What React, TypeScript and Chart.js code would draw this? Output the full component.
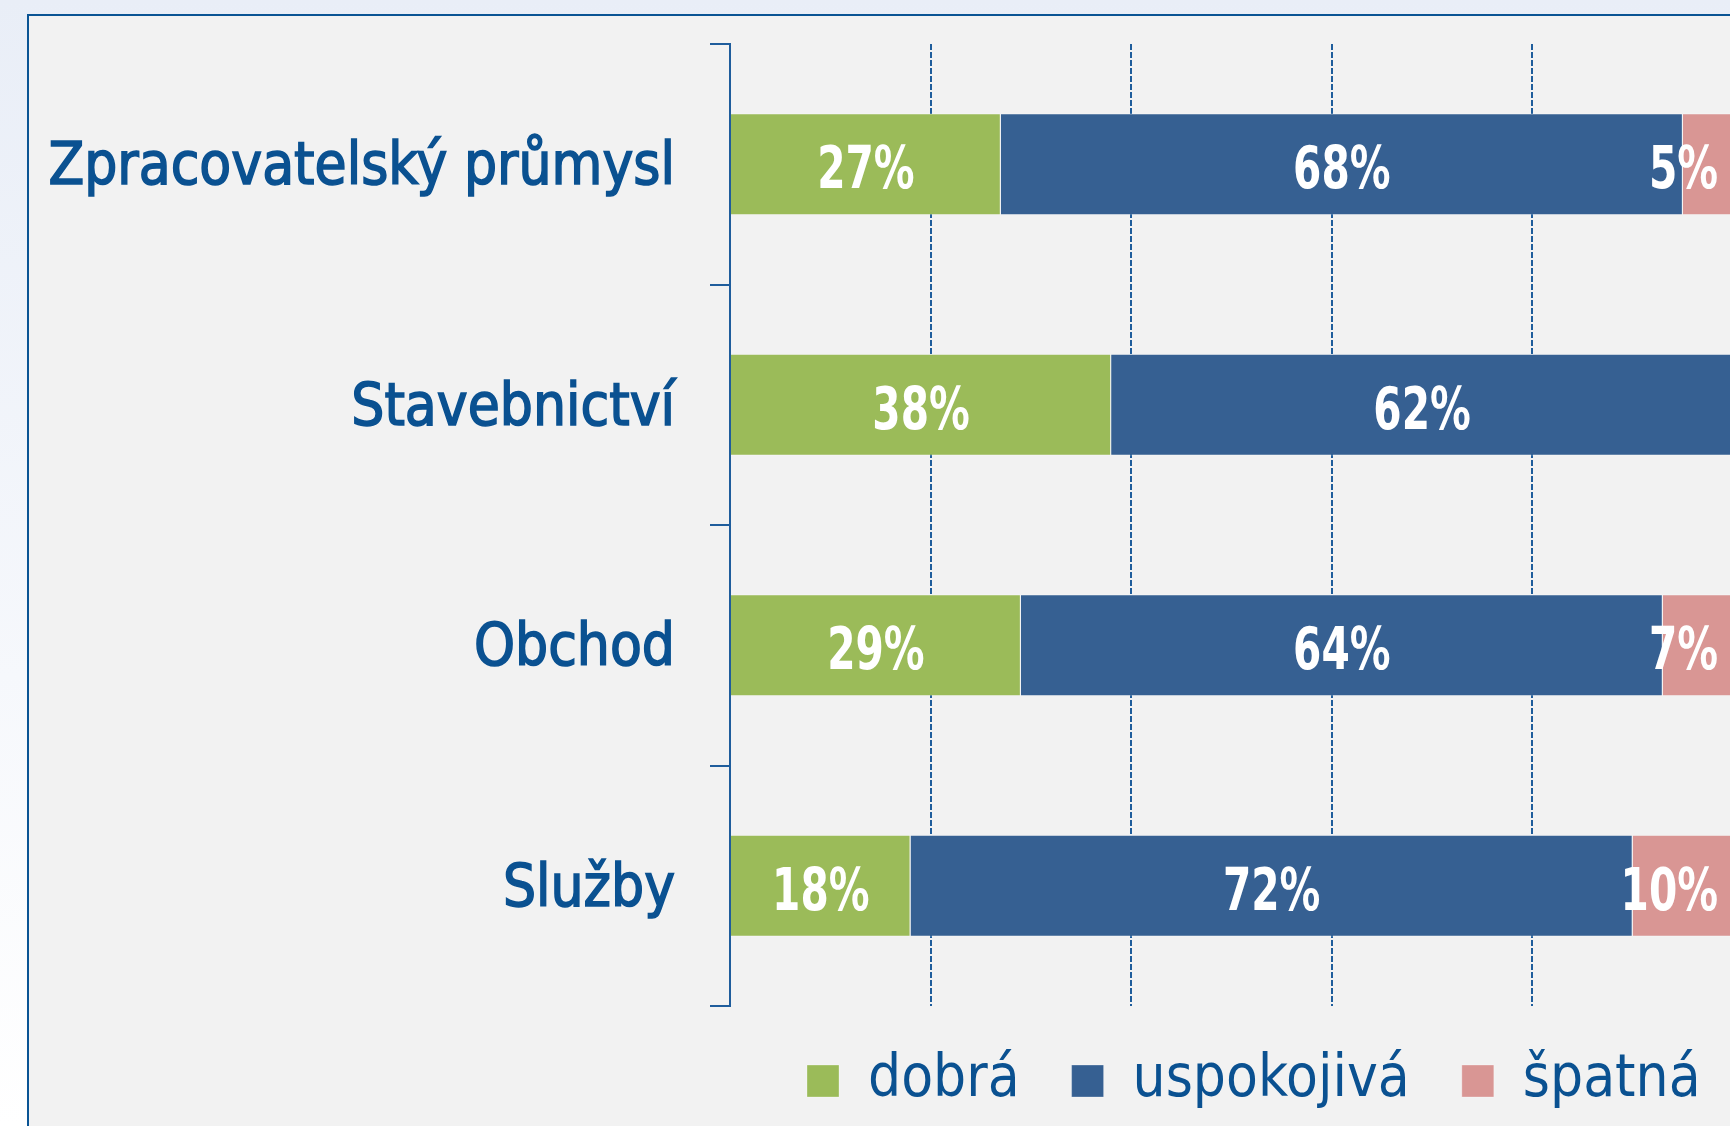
import React, { useEffect, useRef } from "react";
import { Chart, registerables } from "chart.js";

Chart.register(...registerables);

const categories = ["Zpracovatelský průmysl", "Stavebnictví", "Obchod", "Služby"];
const seriesNames = ["dobrá", "uspokojivá", "špatná"];
const dobra = [27, 38, 29, 18];
const uspokojiva = [68, 62, 64, 72];
const spatna = [5, 0, 7, 10];
const xTicks = [0, 20, 40, 60, 80, 100];

const GREEN = "#9bbb59";
const BLUE = "#366092";
const PINK = "#d99694";
const TEXT = "#0a5191";
const AXIS = "#1f5d9c";
const FONT = "'DejaVu Sans Condensed', 'DejaVu Sans', sans-serif";

const CANVAS_W = 1760;
const CANVAS_H = 1126;

const barLabels = {
  id: "barLabels",
  afterDatasetsDraw(chart: any) {
    const ctx = chart.ctx;
    ctx.save();
    ctx.font = `bold 58px ${FONT}`;
    ctx.fillStyle = "#ffffff";
    ctx.textAlign = "center";
    ctx.textBaseline = "alphabetic";
    const sx = 0.78;
    const maxRight = chart.chartArea.right - 15;
    chart.data.datasets.forEach((ds: any, di: number) => {
      const meta = chart.getDatasetMeta(di);
      meta.data.forEach((bar: any, i: number) => {
        const v = ds.data[i];
        if (!v) return;
        const text = `${v}%`;
        const { x, y, base } = bar.getProps(["x", "y", "base"], true);
        const w = ctx.measureText(text).width * sx;
        let cx = (x + base) / 2;
        if (cx + w / 2 > maxRight) cx = maxRight - w / 2;
        ctx.save();
        ctx.translate(cx, y + 24);
        ctx.scale(sx, 1);
        ctx.fillText(text, 0, 0);
        ctx.restore();
      });
    });
    ctx.restore();
  },
};

const legendPlace = {
  id: "legendPlace",
  afterLayout(chart: any) {
    const lg = chart.legend;
    if (!lg) return;
    const pad = lg.options.labels.padding;
    const dx = 807 - (lg.left + pad);
    const dy = 1052 - (lg.top + pad);
    lg.left += dx;
    lg.right += dx;
    lg.top += dy;
    lg.bottom += dy;
  },
};

export default function App() {
  const ref = useRef<HTMLCanvasElement | null>(null);

  useEffect(() => {
    document.body.style.margin = "0";
    document.body.style.overflow = "hidden";
    const canvas = ref.current!;
    const chart = new Chart(canvas, {
      type: "bar",
      data: {
        labels: categories,
        datasets: [
          { label: seriesNames[0], data: dobra, backgroundColor: GREEN },
          { label: seriesNames[1], data: uspokojiva, backgroundColor: BLUE },
          { label: seriesNames[2], data: spatna, backgroundColor: PINK },
        ].map((d) => ({
          ...d,
          borderColor: "rgba(255,255,255,0.3)",
          borderWidth: 1,
          barPercentage: 0.425,
          categoryPercentage: 1,
        })),
      },
      options: {
        indexAxis: "y",
        responsive: false,
        animation: false,
        devicePixelRatio: 1,
        layout: { padding: { top: 44, left: 0, right: CANVAS_W - 1733, bottom: 0 } },
        plugins: {
          legend: {
            position: "bottom",
            align: "start",
            labels: {
              boxWidth: 32,
              boxHeight: 32,
              padding: 52,
              color: TEXT,
              font: { family: FONT, size: 58 },
            },
          },
          tooltip: { enabled: false },
          title: { display: false },
        },
        scales: {
          x: {
            type: "linear",
            stacked: true,
            min: 0,
            max: 100,
            afterBuildTicks: (s: any) => {
              s.ticks = xTicks.map((v) => ({ value: v }));
            },
            afterFit: (s: any) => {
              s.height = 0;
              s.paddingLeft = 0;
              s.paddingRight = 0;
            },
            ticks: { display: false },
            grid: {
              drawTicks: false,
              lineWidth: 2,
              color: (c: any) =>
                c.tick && (c.tick.value === 0 || c.tick.value === 100) ? "rgba(0,0,0,0)" : AXIS,
            },
            border: { display: false, dash: [6, 2] },
          },
          y: {
            type: "category",
            stacked: true,
            afterFit: (s: any) => {
              s.width = 730;
              s.paddingTop = 0;
              s.paddingBottom = 0;
            },
            ticks: {
              color: TEXT,
              padding: 35,
              labelOffset: 5,
              textStrokeColor: TEXT,
              textStrokeWidth: 1.5,
              font: { family: FONT, size: 58 },
            },
            grid: {
              drawOnChartArea: false,
              drawTicks: true,
              tickLength: 20,
              color: AXIS,
              lineWidth: 2,
            },
            border: { display: true, color: AXIS, width: 2 },
          },
        },
      },
      plugins: [barLabels, legendPlace],
    } as any);
    return () => chart.destroy();
  }, []);

  return (
    <div
      style={{
        position: "fixed",
        left: 0,
        top: 0,
        width: 1730,
        height: 1126,
        overflow: "hidden",
        background: "linear-gradient(to bottom, #e9eef7 0%, #f6f8fc 60%, #ffffff 100%)",
      }}
    >
      <div
        style={{
          position: "absolute",
          left: 27,
          top: 14,
          width: 2000,
          height: 2000,
          boxSizing: "border-box",
          border: "2px solid #0a5494",
          background: "#f2f2f2",
        }}
      />
      <canvas
        ref={ref}
        width={CANVAS_W}
        height={CANVAS_H}
        style={{ position: "absolute", left: 0, top: 0, width: CANVAS_W, height: CANVAS_H }}
      />
    </div>
  );
}
